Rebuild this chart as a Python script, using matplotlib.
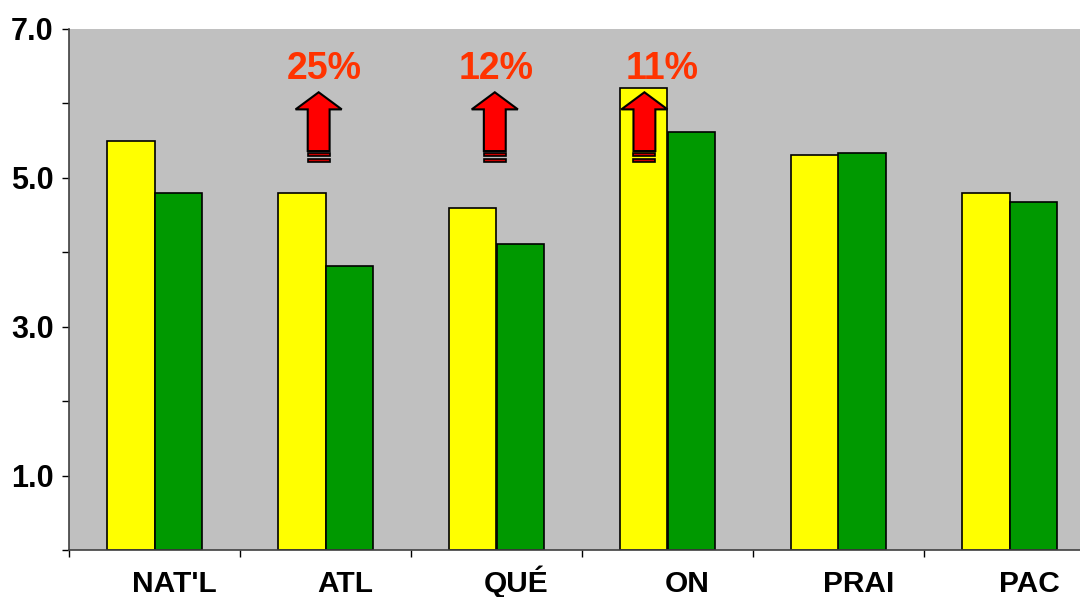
import matplotlib
matplotlib.use("Agg")
import matplotlib.pyplot as plt
from matplotlib.patches import Polygon, Rectangle
from matplotlib.transforms import ScaledTranslation
import numpy as np

plt.rcParams['font.family'] = ['Liberation Sans', 'DejaVu Sans']

categories = ["NAT'L", "ATL", "QUÉ", "ON", "PRAI", "PAC"]
yellow_vals = [5.50, 4.80, 4.60, 6.21, 5.31, 4.80]
green_vals = [4.80, 3.82, 4.11, 5.62, 5.33, 4.67]

# up-arrows with percentage labels: (x of arrow, x of label, text)
arrow_x = [0.96, 1.99, 2.865]
label_x = [0.99, 2.0, 2.97]
pct_labels = ["25%", "12%", "11%"]

fig = plt.figure(figsize=(10.8, 5.97), dpi=100)
ax = fig.add_axes([69 / 1080, 1 - 550 / 597, (1095 - 69) / 1080, (550 - 29) / 597])
ax.set_facecolor("#C0C0C0")

x = np.arange(len(categories))
w = 0.28
ax.bar(x - w / 2, yellow_vals, w, color="#FFFF00", edgecolor="black", linewidth=1.2, zorder=2)
ax.bar(x + w / 2, green_vals, w, color="#009900", edgecolor="black", linewidth=1.2, zorder=2)

ax.set_xlim(-0.5, len(categories) - 0.5)
ax.set_ylim(0, 7)

# y ticks every 1.0, label only the odd ones
ax.set_yticks(np.arange(0, 8, 1))
ax.set_yticklabels(["" if v % 2 == 0 else f"{v:.1f}" for v in range(8)])
ax.tick_params(axis="y", direction="out", length=5, width=1, pad=6,
               labelsize=22, colors="black")
for lab in ax.get_yticklabels():
    lab.set_fontweight("bold")

# x: ticks at category boundaries, labels drawn on a common baseline,
# shifted a bit right of the group centre like the original
ax.set_xticks(np.arange(-0.5, len(categories) + 0.5, 1))
ax.set_xticklabels([])
ax.tick_params(axis="x", direction="out", length=5, width=1)
shift = ScaledTranslation(20 / 100, 0, fig.dpi_scale_trans)
for xi, name in zip(x, categories):
    ax.text(xi, -0.081, name, transform=ax.get_xaxis_transform() + shift,
            ha="center", va="baseline", fontsize=21.5, fontweight="bold", clip_on=False)

for side in ("top", "right"):
    ax.spines[side].set_visible(False)
for side in ("left", "bottom"):
    ax.spines[side].set_color("#404040")
    ax.spines[side].set_linewidth(1.2)

# block arrows
hw, sw = 0.135, 0.064
top, head_base, shaft_bot = 6.15, 5.92, 5.36
for ax_x, lx, txt in zip(arrow_x, label_x, pct_labels):
    pts = [(ax_x, top), (ax_x + hw, head_base), (ax_x + sw, head_base),
           (ax_x + sw, shaft_bot), (ax_x - sw, shaft_bot), (ax_x - sw, head_base),
           (ax_x - hw, head_base)]
    ax.add_patch(Polygon(pts, closed=True, facecolor="#FF0000", edgecolor="black",
                         linewidth=1.5, zorder=4))
    for y0, y1 in [(5.29, 5.335), (5.21, 5.255)]:
        ax.add_patch(Rectangle((ax_x - sw, y0), 2 * sw, y1 - y0, facecolor="#CC0000",
                               edgecolor="black", linewidth=1.2, zorder=4))
    ax.text(lx, 6.46, txt, ha="center", va="center", fontsize=27, fontweight="bold",
            color="#FF3300", zorder=5)

fig.savefig("out.png", dpi=100)
